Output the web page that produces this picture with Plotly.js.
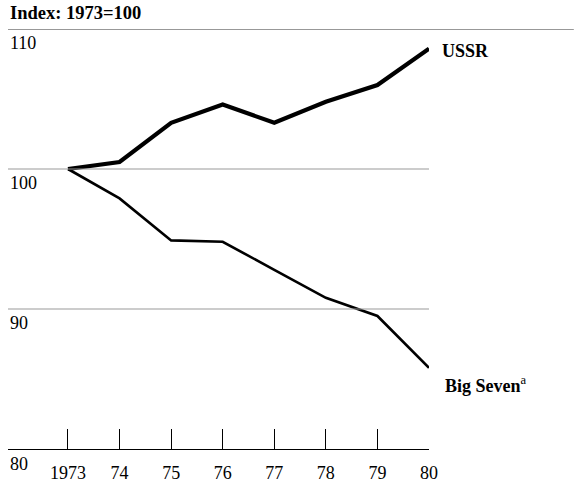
<!DOCTYPE html>
<html>
<head>
<meta charset="utf-8">
<script src="https://cdn.plot.ly/plotly-3.0.1.min.js"></script>
<style>html,body{margin:0;padding:0;background:#fff;}#chart{width:574px;height:483px;}</style>
</head>
<body>
<div id="chart"></div>
<script>
// ---- data ----
var years = ["1973", "74", "75", "76", "77", "78", "79", "80"];
var ussr = [100, 100.5, 103.3, 104.6, 103.3, 104.8, 106.0, 108.6];
var bigSeven = [100, 97.9, 94.9, 94.8, 92.8, 90.8, 89.5, 85.8];
var yTickValues = [110, 100, 90, 80];
var yTickLabels = ["110", "100", "90", "80"];
var titleText = "Index: 1973=100";
var seriesNames = ["USSR", "Big Seven<span style=\"font-weight:normal\"><sup>a</sup></span>"];

var xIdx = years.map(function (_, i) { return i; });
var FONT = "Liberation Serif, Times New Roman, serif";

var traces = [
  { x: xIdx, y: ussr, type: "scatter", mode: "lines", name: "USSR",
    line: { color: "#000", width: 4.2 }, hoverinfo: "skip" },
  { x: xIdx, y: bigSeven, type: "scatter", mode: "lines", name: "Big Seven",
    line: { color: "#000", width: 2.6 }, hoverinfo: "skip" }
];

var shapes = [];
var annotations = [];
yTickValues.forEach(function (v, i) {
  if (v === 110) {
    shapes.push({ type: "line", xref: "paper", yref: "y", x0: 0, x1: 1.344, y0: v, y1: v,
      line: { color: "#333", width: 1.2 } });
  } else if (v !== 80) {
    shapes.push({ type: "line", xref: "paper", yref: "y", x0: 0, x1: 1, y0: v, y1: v,
      line: { color: "#999", width: 1 } });
  }
  annotations.push({ xref: "paper", yref: "y", x: 0, y: v, xanchor: "left", yanchor: "top",
    text: yTickLabels[i], showarrow: false, yshift: (v === 80 ? -3 : -2),
    font: { family: FONT, size: 18, color: "#000" } });
});

annotations.push({ xref: "x", yref: "y", x: 7, y: 108.4, xanchor: "left", yanchor: "middle",
  xshift: 11, text: seriesNames[0], showarrow: false,
  font: { family: FONT, size: 18, color: "#000", weight: "bold" } });
annotations.push({ xref: "x", yref: "y", x: 7, y: 84.6, xanchor: "left", yanchor: "middle",
  xshift: 14, text: seriesNames[1], showarrow: false,
  font: { family: FONT, size: 18, color: "#000", weight: "bold" } });
annotations.push({ xref: "paper", yref: "paper", x: 0, y: 1 + (29 - 13) / 420,
  xanchor: "left", yanchor: "middle", text: titleText, showarrow: false,
  font: { family: FONT, size: 18.5, color: "#000", weight: "bold" } });

var layout = {
  width: 574, height: 483,
  margin: { l: 8, r: 145, t: 29, b: 34 },
  paper_bgcolor: "#fff", plot_bgcolor: "#fff",
  showlegend: false,
  xaxis: {
    range: [-1.163, 7], tickmode: "array", tickvals: xIdx, ticktext: years,
    ticks: "inside", ticklen: 20, tickwidth: 1, tickcolor: "#000",
    ticklabelstandoff: 7,
    showline: true, linecolor: "#000", linewidth: 1,
    showgrid: false, zeroline: false, fixedrange: true,
    tickfont: { family: FONT, size: 18, color: "#000" }
  },
  yaxis: {
    range: [80, 110], showgrid: false, zeroline: false, showline: false,
    showticklabels: false, ticks: "", fixedrange: true
  },
  shapes: shapes,
  annotations: annotations
};

Plotly.newPlot("chart", traces, layout, { staticPlot: true, displayModeBar: false });
</script>
</body>
</html>
